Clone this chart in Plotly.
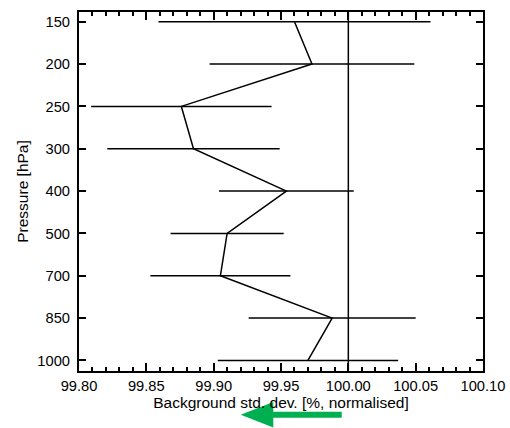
import plotly.graph_objects as go

# Data
pressure = ["150", "200", "250", "300", "400", "500", "700", "850", "1000"]
std_dev = [99.960, 99.973, 99.876, 99.885, 99.954, 99.910, 99.905, 99.988, 99.970]
err = [0.101, 0.076, 0.067, 0.064, 0.050, 0.042, 0.052, 0.062, 0.067]
ref_value = 100.0
x_ticks = [99.80, 99.85, 99.90, 99.95, 100.00, 100.05, 100.10]

FONT = "Liberation Sans, Arial, Helvetica, sans-serif"

W, H = 510, 428
L, R, T, B = 79, 27, 12, 57
pw, ph = W - L - R, H - T - B


def px(x):
    return (x - L) / pw


def py(y):
    return (H - B - y) / ph


fig = go.Figure()
fig.add_trace(go.Scatter(
    x=std_dev, y=pressure, mode="lines",
    line=dict(color="black", width=1.5),
    error_x=dict(type="data", array=err, symmetric=True, color="black",
                 thickness=1.5, width=0),
    showlegend=False, hoverinfo="skip",
))

# vertical reference line
fig.add_shape(type="line", xref="x", yref="paper", x0=ref_value, x1=ref_value,
              y0=0, y1=1, line=dict(color="black", width=1.5))

# green arrow (decoration below the axis)
pts = [(341.7, 411.7), (273.3, 411.7), (273.3, 402.0), (240.7, 414.7),
       (273.3, 427.4), (273.3, 417.7), (341.7, 417.7)]
path = "M " + " L ".join(f"{px(a):.5f},{py(b):.5f}" for a, b in pts) + " Z"
fig.add_shape(type="path", xref="paper", yref="paper", path=path,
              fillcolor="#00B050", line=dict(width=0), layer="above")

fig.update_xaxes(
    range=[99.80, 100.10], tickvals=x_ticks, ticktext=[f"{v:.2f}" for v in x_ticks],
    ticks="inside", ticklen=8, tickwidth=1.5, tickcolor="black",
    minor=dict(dtick=0.01, tick0=99.80, ticks="inside", ticklen=4,
               tickwidth=1.5, tickcolor="black"),
    showline=True, linewidth=2, linecolor="black", mirror="ticks",
    showgrid=False, zeroline=False,
    tickfont=dict(family=FONT, size=14.7, color="black"),
    title=dict(text="Background std. dev. [%, normalised]",
               font=dict(family=FONT, size=15.5, color="black"), standoff=4),
)
fig.update_yaxes(
    type="category", categoryorder="array", categoryarray=pressure,
    range=[8.25, -0.23],
    ticks="inside", ticklen=7, tickwidth=1.5, tickcolor="black",
    showline=True, linewidth=2, linecolor="black", mirror="ticks",
    showgrid=False, zeroline=False,
    tickfont=dict(family=FONT, size=14.7, color="black"),
    ticklabelstandoff=4,
    title=dict(text="Pressure [hPa]",
               font=dict(family=FONT, size=15.5, color="black"), standoff=5),
)
fig.update_layout(
    width=W, height=H, margin=dict(l=L, r=R, t=T, b=B, autoexpand=False),
    paper_bgcolor="white", plot_bgcolor="white",
    font=dict(family=FONT, color="black"),
)
fig.write_html("out.html")
